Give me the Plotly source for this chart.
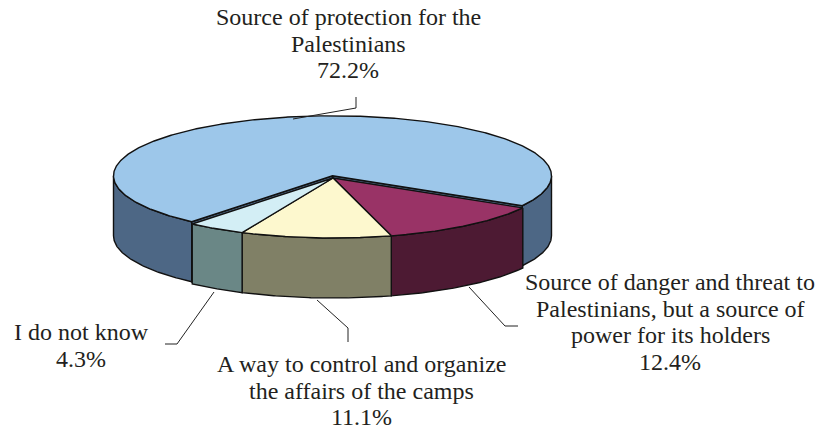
import numpy as np
import plotly.graph_objects as go

# Survey shares, clockwise from the first slice
categories = [
    ["Source of protection for the", "Palestinians"],
    ["Source of danger and threat to", "Palestinians, but a source of", "power for its holders"],
    ["A way to control and organize", "the affairs of the camps"],
    ["I do not know"],
]
values = [72.2, 12.4, 11.1, 4.3]
top_colors = ["#9DC7EA", "#993366", "#FDF8CE", "#D3EEF5"]
side_colors = ["#4D6785", "#4D1A33", "#808066", "#6A8786"]

# Pie geometry in page pixels
CX, CY, RX, RY, DEPTH = 333.0, 178.0, 219.0, 60.0, 60.0
FIRST_ANGLE = 220.0 - 360.0
# The first slice is pulled slightly away from the others
OFFSETS = [(-0.5, -2.2), (0, 0), (0, 0), (0, 0)]
EDGE = dict(color="#111111", width=1.4)

fig = go.Figure()


def arc(a0, a1, off, dz=0.0):
    t = np.radians(np.linspace(a0, a1, max(int(abs(a1 - a0)) * 2, 2)))
    return CX + off[0] + RX * np.sin(t), CY + off[1] + dz - RY * np.cos(t)


def poly(x, y, color):
    fig.add_trace(go.Scatter(
        x=np.append(x, x[0]), y=np.append(y, y[0]), mode="lines",
        fill="toself", fillcolor=color, line=EDGE, hoverinfo="skip",
    ))


def wall(a0, a1, off, color):
    x0, y0 = arc(a0, a1, off)
    x1, y1 = arc(a1, a0, off, DEPTH)
    poly(np.concatenate([x0, x1]), np.concatenate([y0, y1]), color)


angle = FIRST_ANGLE
spans = []
for v in values:
    spans.append((angle, angle + v * 3.6))
    angle += v * 3.6

for (a0, a1), off, top, side in zip(spans, OFFSETS, top_colors, side_colors):
    # Walls are only visible on the front half of the rim (90..270 deg)
    for shift in (0, 360):
        lo, hi = max(a0 + shift, 90), min(a1 + shift, 270)
        if hi > lo:
            wall(lo, hi, off, side)
    # Cut faces below the top of a pulled slice
    if off != (0, 0):
        ax, ay = arc(a0, a0, off)
        bx, by = arc(a1, a1, off)
        ox, oy = CX + off[0], CY + off[1]
        for px, py in ((ax[0], ay[0]), (bx[0], by[0])):
            poly(np.array([ox, px, px, ox]),
                 np.array([oy, py, py + DEPTH, oy + DEPTH]), side)
    x, y = arc(a0, a1, off)
    poly(np.append(x, CX + off[0]), np.append(y, CY + off[1]), top)

# Leader lines from the labels to the slices
leaders = [
    ([356, 356, 293], [97, 108, 119]),
    ([518, 505, 469], [326, 326, 287]),
    ([348, 348, 317], [342, 328, 300]),
    ([165, 177, 214], [344, 344, 292]),
]
for lx, ly in leaders:
    fig.add_trace(go.Scatter(x=lx, y=ly, mode="lines", hoverinfo="skip",
                             line=dict(color="#222222", width=1)))

# Labels: centre x and first-line y per category, lines set close together
label_x = [348, 670, 361, 81]
label_y = [17, 282, 364, 332]
LINE_STEP = 26.6
for lines, v, lx, ly in zip(categories, values, label_x, label_y):
    for i, line in enumerate(lines + [f"{v}%"]):
        fig.add_annotation(x=lx, y=ly + i * LINE_STEP, text=line, showarrow=False,
                           xanchor="center", yanchor="middle", align="center",
                           font=dict(family="Liberation Serif", size=24, color="#231F20"))

fig.update_layout(
    width=817, height=429, showlegend=False, paper_bgcolor="white", plot_bgcolor="white",
    margin=dict(l=0, r=0, t=0, b=0),
    xaxis=dict(range=[0, 817], visible=False),
    yaxis=dict(range=[429, 0], visible=False),
)
fig.write_html("out.html", config={"displayModeBar": False})
